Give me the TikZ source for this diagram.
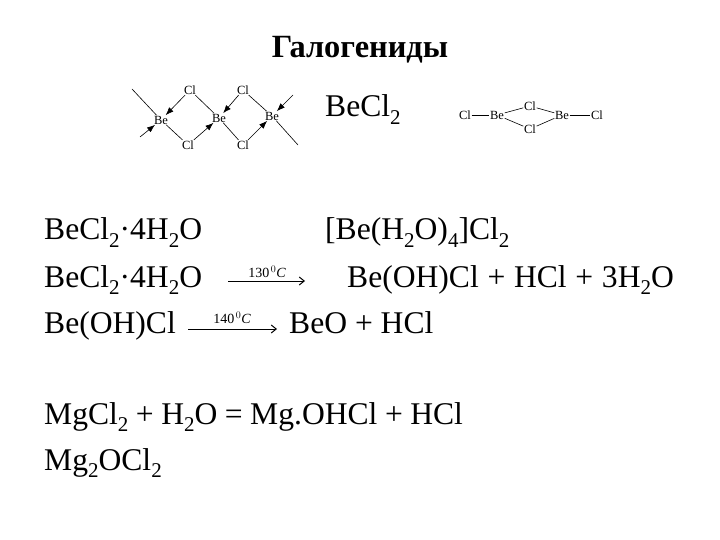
\documentclass[tikz,border=0pt]{standalone}
\usepackage{fontspec}
\setmainfont{Liberation Serif}
\usetikzlibrary{arrows.meta}
\newcommand{\sbs}[1]{\raisebox{-0.25em}{\fontsize{21}{22}\selectfont #1}}
\tikzset{
  big/.style={anchor=base west,inner sep=0pt,font=\fontsize{31.6}{33}\selectfont},
  atom/.style={inner sep=0.5pt,font=\fontsize{12.5}{13}\selectfont},
  bond/.style={draw=black,line width=0.6pt},
  dative/.style={draw=black,line width=0.6pt,-{Latex[length=8pt,width=6pt]}},
  heat/.style={draw=black,line width=1pt,-{Straight Barb[length=5pt,width=8pt]}},
  heatlabel/.style={inner sep=0pt,font=\itshape\fontsize{14}{15}\selectfont}
}
\begin{document}
\begin{tikzpicture}[x=1pt,y=-1pt]
\useasboundingbox (0,0) rectangle (720,540);
\node[inner sep=0pt,font=\bfseries\fontsize{24}{26}\selectfont,anchor=base,scale=1.35] (title) at (360,58) {Галогениды};
\node[big] (t1) at (325,117) {BeCl\sbs{2}};
\node[big] (l1) at (44,240) {BeCl\sbs{2}·4H\sbs{2}O};
\node[big] (r1) at (325,240) {[Be(H\sbs{2}O)\sbs{4}]Cl\sbs{2}};
\node[big] (l2) at (44,287) {BeCl\sbs{2}·4H\sbs{2}O};
\node[big] (r2) at (347,287) {\spaceskip=8.7pt Be(OH)Cl + HCl + 3H\sbs{2}O};
\node[big] (l3) at (44,333) {Be(OH)Cl};
\node[big] (r3) at (289,333) {BeO + HCl};
\node[big] (m1) at (44,424) {\spaceskip=7.5pt MgCl\sbs{2} + H\sbs{2}O = Mg.OHCl + HCl};
\node[big] (m2) at (44,470) {Mg\sbs{2}OCl\sbs{2}};
% polymer chain
\node[atom] (a1) at (161,120) {Be};
\node[atom] (a2) at (219,118) {Be};
\node[atom] (a3) at (272,116) {Be};
\node[atom] (c1) at (190,90) {Cl};
\node[atom] (c2) at (243,90) {Cl};
\node[atom] (c3) at (188,145) {Cl};
\node[atom] (c4) at (243,145) {Cl};
\coordinate (e1) at (132,89);
\coordinate (e2) at (140,137);
\coordinate (e3) at (293,95);
\coordinate (e4) at (298,145);
\draw[bond] (e1) -- (a1);
\draw[dative] (e2) -- (a1);
\draw[dative] (c1) -- (a1);
\draw[bond] (a1) -- (c3);
\draw[bond] (c1) -- (a2);
\draw[dative] (c3) -- (a2);
\draw[dative] (c2) -- (a2);
\draw[bond] (a2) -- (c4);
\draw[bond] (c2) -- (a3);
\draw[dative] (c4) -- (a3);
\draw[dative] (e3) -- (a3);
\draw[bond] (a3) -- (e4);
% dimer
\node[atom] (d1) at (465,115) {Cl};
\node[atom] (d2) at (497,115) {Be};
\node[atom] (d3) at (530,106) {Cl};
\node[atom] (d4) at (530,129) {Cl};
\node[atom] (d5) at (562,115) {Be};
\node[atom] (d6) at (597,115) {Cl};
\draw[bond] (d1) -- (d2);
\draw[bond] (d2) -- (d3);
\draw[bond] (d2) -- (d4);
\draw[bond] (d3) -- (d5);
\draw[bond] (d4) -- (d5);
\draw[bond] (d5) -- (d6);
% reaction arrows
\coordinate (h1a) at (228,281);
\coordinate (h1b) at (305,281);
\coordinate (h2a) at (188,329);
\coordinate (h2b) at (277,329);
\draw[heat] (h1a) -- (h1b);
\draw[heat] (h2a) -- (h2b);
\node[heatlabel] (hl1) at (267,272) {\textup{130}$^{\,0}$C};
\node[heatlabel] (hl2) at (232,318) {\textup{140}$^{\,0}$C};
\end{tikzpicture}
\end{document}
